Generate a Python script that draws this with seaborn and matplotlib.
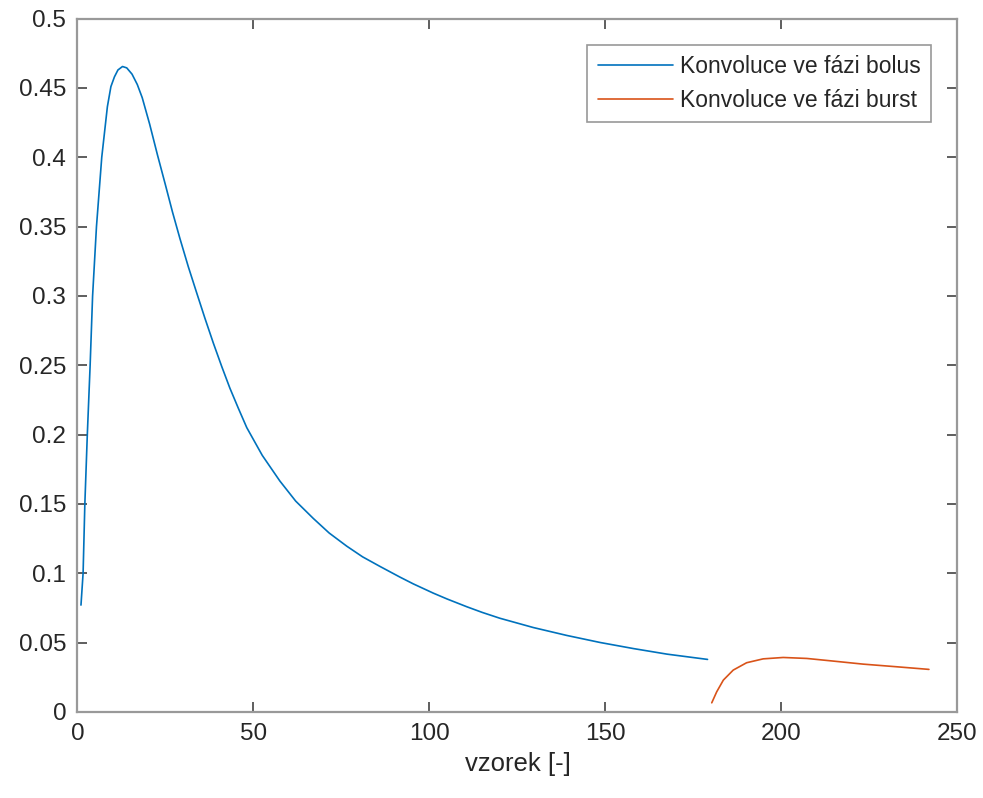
import numpy as np
import pandas as pd
import matplotlib
matplotlib.use("Agg")
import matplotlib.pyplot as plt
import seaborn as sns
from matplotlib.ticker import FuncFormatter

# values
bolus_x = [1, 1.6, 2.1, 2.8, 3.6, 4.3, 5.4, 6.9, 8.5, 9.5, 10.5, 11.5, 12.8, 14, 15.5, 17,
           18.4, 20.5, 22.7, 25, 27, 29.1, 31.5, 33.9, 36.2, 38.6, 41, 43.3, 45.7, 48.1,
           52.5, 57.5, 62, 67, 71.5, 76.5, 81, 86, 91.6, 95.4, 101.1, 105, 110.6, 115,
           120, 129.5, 139, 148.5, 158, 167.5, 179]
bolus_y = [0.077, 0.10, 0.15, 0.20, 0.25, 0.30, 0.35, 0.40, 0.4365, 0.451, 0.458, 0.463,
           0.4655, 0.4645, 0.460, 0.4525, 0.443, 0.424, 0.402, 0.380, 0.3605, 0.3415,
           0.321, 0.302, 0.284, 0.266, 0.249, 0.2335, 0.219, 0.205, 0.185, 0.1665, 0.152,
           0.1395, 0.129, 0.1195, 0.1118, 0.1048, 0.0972, 0.0923, 0.0856, 0.0814, 0.0758,
           0.0717, 0.0675, 0.0608, 0.0551, 0.0500, 0.0456, 0.0416, 0.0378]

burst_x = [180.2, 181.6, 183.5, 186.3, 190.1, 194.8, 200.5, 207.2, 214.7, 223.2, 232.7, 241.9]
burst_y = [0.0065, 0.0144, 0.0229, 0.0301, 0.0354, 0.0382, 0.0392, 0.0385, 0.0366,
           0.0344, 0.0325, 0.0306]

labels = ["Konvoluce ve fázi bolus", "Konvoluce ve fázi burst"]
colors = ["#0072BD", "#D95319"]

df = pd.concat([
    pd.DataFrame({"x": bolus_x, "y": bolus_y, "serie": labels[0]}),
    pd.DataFrame({"x": burst_x, "y": burst_y, "serie": labels[1]}),
])

sns.set_style("white")
plt.rcParams["font.family"] = ["Liberation Sans", "DejaVu Sans"]

fig = plt.figure(figsize=(9.83, 7.98), dpi=100)
ax = fig.add_axes([0.0788, 0.108, 0.8952, 0.8686])

sns.lineplot(data=df, x="x", y="y", hue="serie", palette=colors,
             sort=False, estimator=None, linewidth=1.2, ax=ax)

ax.set_xlim(0, 250)
ax.set_ylim(0, 0.5)
ax.set_xticks(np.arange(0, 251, 50))
ax.set_yticks(np.arange(0, 0.501, 0.05))
ax.yaxis.set_major_formatter(FuncFormatter(lambda v, p: f"{v:g}"))
ax.tick_params(direction="in", length=7, width=1.1, color="#333333",
               labelsize=17.5, labelcolor="#262626",
               bottom=True, left=True, top=True, right=True, pad=8)
for s in ax.spines.values():
    s.set_visible(True)
    s.set_color("#999999")
    s.set_linewidth(1.6)

ax.set_xlabel("vzorek [-]", fontsize=18.5, color="#262626", labelpad=5)
ax.set_ylabel("")

leg = ax.legend(loc="upper right", fontsize=16.5, frameon=True, fancybox=False,
                handlelength=3.3, borderaxespad=1.15, borderpad=0.45,
                labelspacing=0.45, handletextpad=0.3)
leg.get_frame().set_edgecolor("#7f7f7f")
leg.get_frame().set_linewidth(1.2)

fig.savefig("out.png", dpi=100, facecolor="white")
